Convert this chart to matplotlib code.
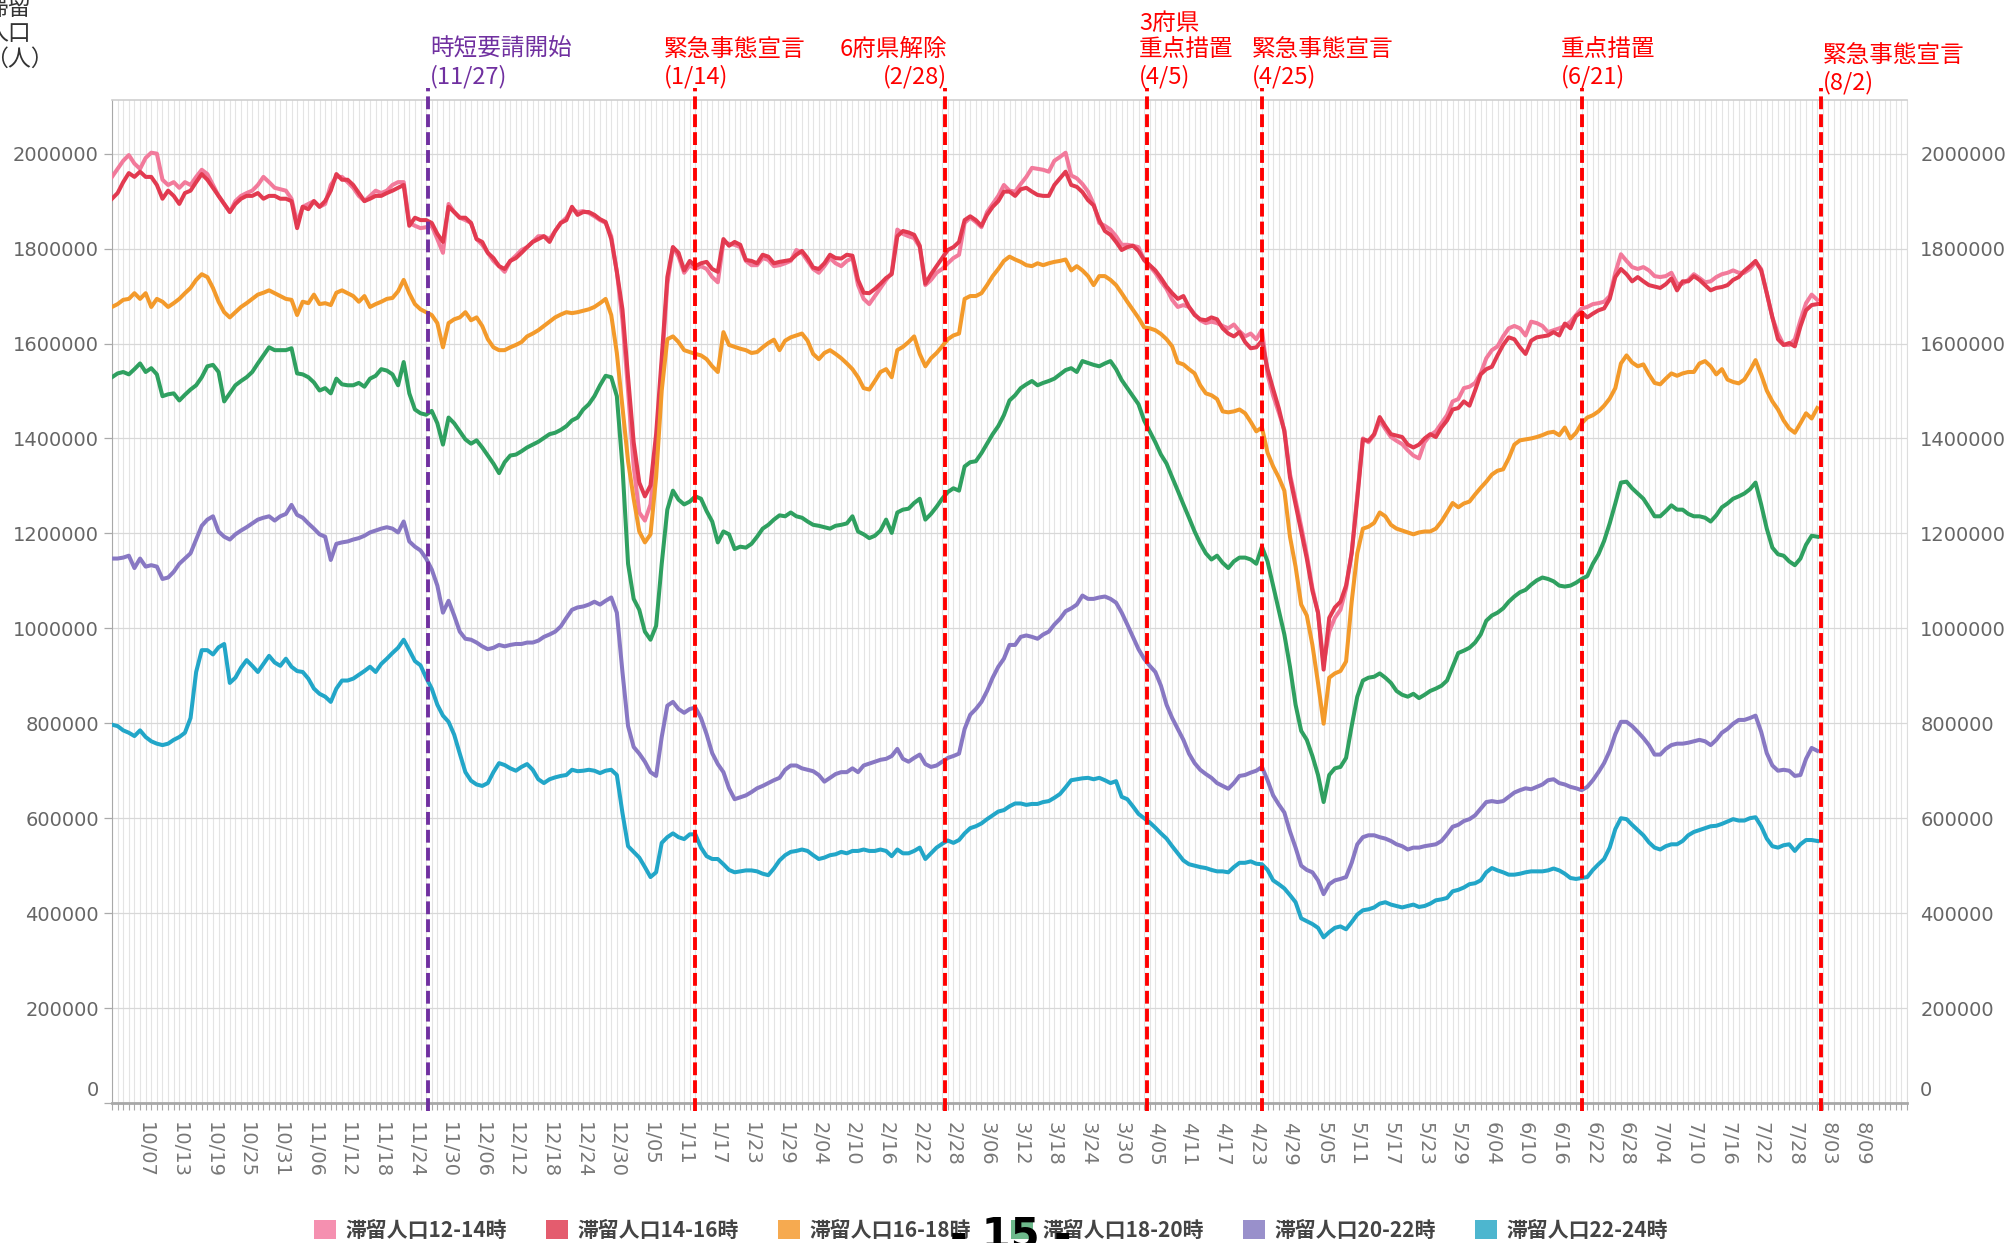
import numpy as np
import pandas as pd
import matplotlib
matplotlib.use("Agg")
import matplotlib.pyplot as plt
from matplotlib.patches import Patch
from matplotlib.transforms import ScaledTranslation

# daily values from 2020-10-01, unit = 10,000 people
start_date = pd.Timestamp("2020-10-01")

pop_12_14 = [
    195.1, 196.8, 198.5, 199.7, 197.9, 196.8, 199.1, 200.2, 200, 194.5,
    193.4, 194, 192.8, 194, 193.4, 195.1, 196.6, 195.7, 193.4, 191.1,
    189.4, 187.7, 190, 191.1, 191.7, 192.2, 193.4, 195.1, 194, 192.8,
    192.5, 192.2, 190.5, 185.4, 188.8, 189.4, 190, 188.8, 189.4, 193.4,
    195.1, 195.1, 194, 192.8, 191.1, 190, 191.1, 192.2, 191.7, 192.2,
    193.4, 194, 194, 185.4, 184.8, 184.3, 184.5, 184.8, 182, 179.1,
    189.4, 187.7, 186.5, 186, 185.4, 182, 180.8, 179.1, 177.4, 176.3,
    175.1, 177.4, 178.5, 179.7, 180.3, 181.4, 182.6, 182.6, 182, 183.7,
    185.4, 186.5,
    188.3, 187.7, 187.9, 187.5, 186.8, 186, 185.4, 182.6, 175.1, 164.9,
    150.1, 134.1, 124.4, 122.7, 126.1, 138, 155, 172.5, 180.3, 178.3,
    174.9, 176.5, 175.7, 176.3, 175.7, 174, 172.9, 181.4, 181, 180.8,
    180.3, 177.4, 176.5, 176.5, 178, 177.6, 176.3, 176.5, 176.9, 177.4,
    179.7, 179.1, 177.4, 175.7, 174.9, 176.3, 178, 176.9, 176.3, 177.4,
    178, 172.3, 169.4, 168.3, 170, 171.7, 173.4, 174.9, 184, 183.1,
    182.6, 182.2, 180.3, 172.3, 173.4, 174.9, 175.7, 176.9, 178, 178.7,
    185.4, 186.5, 185.6, 184.5, 187.7, 189.4, 191.1, 193.4, 192.2,
    192, 193.6, 195.1, 197, 196.8, 196.6, 196.2, 198.5, 199.3, 200.2,
    195.4, 194.8, 193.6, 192, 189.4, 185.4, 184.8, 184, 182.6, 180.8,
    180.8, 180.6, 180.3, 177.6, 176.3, 174.9, 173.1, 171.5, 169.2, 167.7,
    168.1, 167.7, 166.2, 164.9, 164.3, 164.6, 164.3, 163.7, 163.2, 164,
    162.6, 161.5, 162.1, 160.9, 162.9, 153.5, 149, 145.5, 141.8, 132.5,
    127, 121.5, 115.5, 108.5, 103.3, 92.5, 99.3, 102.2, 103.9, 108.4,
    116, 128, 140, 139.2, 140.7, 143.8, 142, 140.3, 139.5, 138.8,
    137.5, 136.4, 135.8, 139.2, 140.7, 141.5, 143.2, 144.9, 147.8,
    148.3, 150.6, 150.9, 151.7, 153.7, 156.9, 158.6, 159.4, 161.5, 163.2,
    163.7, 163.2, 161.7, 164.6, 164.3, 163.7, 162.4, 162.8, 163.2, 163.7,
    164.6, 166, 167.4, 167.7, 168.3, 168.5, 168.8, 170, 174.9, 178.8,
    177.4, 176.1, 175.7, 176.1, 175.4, 174.2, 174, 174.2, 174.9, 172.6,
    172.6, 173.4, 174.6, 173.8, 172.9, 173.1, 174, 174.6, 174.9, 175.4,
    174.9, 174.9, 175.7, 177.1, 175.7, 170.6, 165.5, 162.1, 159.7, 159.7,
    160.9, 164.9, 168.5, 170.3, 169.2,
]

pop_14_16 = [
    190.5, 191.7, 194, 195.9, 195.1, 196.2, 195.1, 195.1, 193.4, 190.5,
    192.2, 191.1, 189.4, 191.7, 192.2, 194, 195.7, 194.5, 192.8, 191.1,
    189.4, 187.7, 189.4, 190.5, 191.1, 191.1, 191.7, 190.5, 191.1, 191.1,
    190.5, 190.5, 190, 184.3, 188.8, 188.3, 190, 188.8, 190, 192.2,
    195.7, 194.5, 194.5, 193.4, 191.7, 190, 190.5, 191.1, 191.1, 191.7,
    192.2, 192.8, 193.4, 184.8, 186.5, 186, 186, 185.4, 183.1, 181.4,
    188.8, 187.7, 186.5, 186.5, 185.4, 182, 181.4, 179.1, 178, 176.3,
    175.7, 177.4, 178, 179.1, 180.3, 181.4, 182, 182.6, 181.4, 183.7,
    185.4, 186,
    188.8, 187.1, 187.7, 187.7, 187.1, 186.2, 185.6, 182, 175.1, 167.2,
    152.9, 139.2, 130.7, 127.8, 130.1, 140.9, 156.9, 174, 180.3, 179.1,
    175.4, 177.4, 176.3, 176.9, 177.2, 175.7, 175.1, 182, 180.6, 181.4,
    180.8, 177.6, 177.4, 176.9, 178.7, 178.3, 176.9, 177.2, 177.4, 177.6,
    178.7, 179.5, 178, 176, 175.7, 176.9, 178.7, 178, 177.9, 178.7,
    178.5, 173.4, 170.7, 170.6, 171.5, 172.6, 173.8, 174.6, 182.6, 183.7,
    183.4, 182.9, 180.6, 172.6, 174.6, 176.3, 178, 179.7, 180.3, 181.4,
    186, 186.8, 186, 184.8, 187.1, 188.8, 190, 192, 192,
    191.1, 192.5, 192.8, 192, 191.3, 191.1, 191.1, 193.4, 194.8, 196.2,
    193.4, 193, 191.9, 190.2, 189.1, 186, 183.7, 182.9, 181.4, 179.7,
    180.3, 180.6, 179.5, 177.6, 176.5, 175.4, 173.8, 172, 170.6, 169.4,
    170, 167.7, 166, 165.1, 164.9, 165.5, 165.1, 163.2, 162.1, 161.5,
    162.4, 160.3, 159, 159.2, 160.6, 154.6, 150.4, 146.4, 141.5, 131.8,
    126.1, 120.4, 114.7, 107.9, 103.3, 91.3, 102.2, 104.4, 105.6, 109,
    115.8, 127.3, 139.8, 139.5, 140.9, 144.5, 142.6, 140.9, 140.6, 140.3,
    138.7, 138.1, 138.7, 140, 140.9, 140.3, 142.3, 143.8, 146.1,
    146.4, 147.8, 146.9, 150.1, 153.5, 154.6, 155.1, 157.5, 159.7, 161.3,
    160.9, 159.2, 157.8, 160.6, 161.3, 161.5, 161.7, 162.4, 161.7, 164.2,
    163.2, 165.8, 166.6, 165.5, 166.3, 167, 167.4, 169.4, 174, 175.7,
    174.6, 173.1, 174, 173.1, 172.3, 172, 171.7, 172.5, 173.7, 171.2,
    173.1, 173.1, 174.2, 173.4, 172.3, 171.2, 171.7, 171.9, 172.3, 173.4,
    174, 175.3, 176.3, 177.4, 175.4, 170.6, 165.5, 160.9, 159.7, 160.1,
    159.4, 163.6, 167, 168.1, 168.3,
]

pop_16_18 = [
    167.7, 168.3, 169.2, 169.4, 170.6, 169.4, 170.6, 167.7, 169.4, 168.8,
    167.7, 168.5, 169.4, 170.6, 171.7, 173.4, 174.6, 174, 171.7, 168.8,
    166.6, 165.5, 166.6, 167.7, 168.5, 169.4, 170.3, 170.7, 171.2, 170.6,
    170, 169.4, 169.2, 166, 168.8, 168.5, 170.3, 168.3, 168.5, 168.1,
    170.7, 171.2, 170.6, 170, 168.8, 170, 167.7, 168.3, 168.8, 169.4,
    169.6, 171, 173.4, 170.6, 168.3, 167.2, 166.6, 166, 164.3, 159.2,
    164.3, 165.1, 165.5, 166.6, 164.9, 165.5, 163.7, 160.9, 159.2, 158.6,
    158.6, 159.2, 159.7, 160.3, 161.5, 162.1, 162.8, 163.7, 164.6, 165.5,
    166.1, 166.6,
    166.4, 166.6, 166.9, 167.2, 167.7, 168.5, 169.4, 166, 158, 146.6,
    135.2, 127.3, 120.4, 118.1, 119.8, 131.8, 150.1, 160.9, 161.5, 160.3,
    158.6, 158.2, 157.8, 157.5, 156.7, 155.2, 154, 162.4, 159.7, 159.3,
    158.9, 158.6, 158, 158.2, 159.2, 160.1, 160.8, 158.6, 160.6, 161.3,
    161.7, 162.1, 160.6, 157.8, 156.7, 158, 158.6, 157.8, 156.9, 155.8,
    154.6, 152.9, 150.6, 150.3, 152.1, 154, 154.6, 152.9, 158.6, 159.3,
    160.3, 161.5, 157.8, 155.2, 156.9, 158, 159.4, 160.9, 161.7, 162.1,
    169.4, 170, 170, 170.6, 172.3, 174.2, 175.7, 177.4, 178.3,
    177.7, 177.2, 176.5, 176.3, 176.9, 176.5, 176.9, 177.2, 177.4, 177.7,
    175.4, 176.3, 175.4, 174.2, 172.3, 174.2, 174.2, 173.4, 172.3, 170.6,
    168.8, 167.1, 165.4, 163.4, 163.2, 162.8, 162, 160.9, 159.4, 156,
    155.6, 154.6, 153.7, 151.2, 149.5, 149.1, 148.3, 145.7, 145.5, 145.7,
    146.1, 145.3, 143.5, 141.5, 142.3, 137, 134.1, 131.8, 129, 119.3,
    113, 105, 102.7, 96.5, 88.5, 79.9, 89.6, 90.5, 91, 93,
    105.6, 115.8, 121, 121.4, 122.2, 124.4, 123.6, 121.8, 121, 120.6,
    120.2, 119.8, 120.2, 120.4, 120.4, 121, 122.5, 124.4, 126.4,
    125.5, 126.3, 126.7, 128.2, 129.6, 130.9, 132.4, 133.2, 133.5, 135.8,
    138.7, 139.6, 139.8, 140, 140.3, 140.7, 141.2, 141.4, 140.7, 142.3,
    140, 141.2, 143.2, 144.4, 144.9, 145.7, 146.9, 148.4, 150.6, 155.8,
    157.5, 156, 155.2, 155.6, 153.5, 151.7, 151.4, 152.6, 153.7, 153.2,
    153.7, 154, 154, 155.8, 156.3, 155.2, 153.5, 154.6, 152.4, 151.9,
    151.6, 152.4, 154.3, 156.5, 153.5, 150.1, 147.8, 146.1, 143.8, 142.1,
    141.2, 143.2, 145.3, 144.2, 146.4,
]

pop_18_20 = [
    152.9, 153.7, 154, 153.5, 154.6, 155.8, 154, 154.8, 153.5, 148.9,
    149.3, 149.5, 148, 149.2, 150.3, 151.2, 152.9, 155.2, 155.5, 154,
    147.8, 149.5, 151.2, 152.1, 152.9, 154, 155.8, 157.5, 159.2, 158.6,
    158.6, 158.6, 159, 153.7, 153.5, 152.9, 151.8, 150.1, 150.6, 149.5,
    152.6, 151.4, 151.2, 151.2, 151.7, 150.9, 152.6, 153.2, 154.6, 154.3,
    153.5, 151.2, 156.1, 149.5, 146.1, 145.3, 145, 145.8, 143.2, 138.7,
    144.4, 143.2, 141.5, 139.8, 138.9, 139.6, 138.1, 136.4, 134.7, 132.7,
    135, 136.4, 136.6, 137.3, 138.1, 138.7, 139.3, 140.1, 140.9, 141.2,
    141.8, 142.6,
    143.8, 144.4, 146.1, 147.2, 148.9, 151.2, 153.2, 152.9, 148.9, 134.1,
    113.6, 106.2, 103.9, 99.3, 97.6, 100.5, 113.6, 125, 129, 127.1,
    126.1, 126.7, 127.8, 127.3, 124.7, 122.5, 118.1, 120.4, 119.8, 116.7,
    117.2, 117, 117.8, 119.3, 121, 121.8, 122.9, 123.8, 123.6, 124.4,
    123.6, 123.3, 122.5, 121.8, 121.6, 121.3, 121, 121.6, 121.8, 122.1,
    123.6, 120.4, 119.8, 119, 119.5, 120.6, 122.9, 120.1, 124.4, 125,
    125.2, 126.4, 127.3, 122.9, 124.1, 125.6, 127.3, 128.7, 129.5, 129,
    134.1, 135, 135.2, 136.9, 138.9, 140.9, 142.6, 144.9, 148,
    149.1, 150.6, 151.4, 152.1, 151.2, 151.7, 152.1, 152.6, 153.5, 154.4,
    154.8, 154, 156.3, 155.9, 155.5, 155.2, 155.8, 156.3, 154.6, 152.3,
    150.6, 148.9, 147.2, 143.8, 141.5, 139.2, 136.6, 134.7, 131.8, 129,
    126.1, 123.3, 120.4, 117.9, 115.8, 114.5, 115.3, 113.8, 112.7, 114.1,
    114.9, 114.9, 114.5, 113.6, 117.2, 114.1, 109, 103.9, 98.7, 91.9,
    83.9, 78.4, 76.5, 73.1, 69.1, 63.4, 69.1, 70.5, 70.8, 72.7,
    79.4, 85.6, 89, 89.6, 89.8, 90.5, 89.6, 88.5, 86.8, 86,
    85.6, 86.2, 85.3, 86, 86.8, 87.3, 87.9, 89, 91.9,
    94.8, 95.3, 95.9, 97, 98.7, 101.6, 102.7, 103.3, 104.2, 105.6,
    106.7, 107.6, 108.1, 109.2, 110.1, 110.7, 110.4, 109.9, 109, 108.8,
    109, 109.6, 110.4, 111, 113.6, 115.6, 118.4, 122.1, 126.3, 130.7,
    130.9, 129.5, 128.4, 127.3, 125.5, 123.6, 123.6, 124.7, 125.9, 125,
    125, 124.1, 123.6, 123.6, 123.3, 122.5, 123.8, 125.5, 126.3, 127.3,
    127.8, 128.4, 129.3, 130.7, 126.1, 121, 117, 115.6, 115.3, 114.1,
    113.3, 114.7, 117.6, 119.5, 119.3,
]

pop_20_22 = [
    114.7, 114.7, 114.9, 115.3, 112.7, 114.7, 113, 113.3, 113, 110.4,
    110.7, 111.9, 113.6, 114.7, 115.8, 118.7, 121.6, 122.9, 123.6, 120.4,
    119.3, 118.7, 119.8, 120.6, 121.3, 122.1, 122.9, 123.3, 123.6, 122.7,
    123.6, 124.1, 126, 123.9, 123.3, 122.1, 121, 119.8, 119.3, 114.4,
    117.8, 118.1, 118.3, 118.7, 119, 119.5, 120.2, 120.6, 121, 121.3,
    121, 120.2, 122.5, 118.3, 117.2, 116.4, 114.7, 112.4, 109, 103.3,
    105.8, 102.7, 99.3, 97.8, 97.6, 97, 96.2, 95.6, 95.9, 96.5,
    96.2, 96.5, 96.7, 96.7, 97, 97, 97.4, 98.2, 98.7, 99.3,
    100.4, 102.2,
    103.9, 104.4, 104.6, 105, 105.6, 105, 105.8, 106.5, 103.3, 90.8,
    79.4, 75, 73.6, 71.9, 69.7, 68.9, 77.1, 83.7, 84.5, 83,
    82.2, 83, 83.3, 81.1, 77.7, 73.7, 71.4, 69.7, 66.3, 64,
    64.4, 64.8, 65.5, 66.3, 66.8, 67.4, 68, 68.5, 70.2, 71.1,
    71.1, 70.5, 70.2, 69.9, 69.1, 67.7, 68.5, 69.3, 69.7, 69.7,
    70.5, 69.7, 71.1, 71.5, 71.9, 72.3, 72.5, 73.1, 74.6, 72.5,
    71.9, 72.7, 73.4, 71.4, 70.8, 71.1, 71.9, 72.7, 73.1, 73.6,
    78.8, 81.8, 83, 84.5, 86.8, 89.6, 91.9, 93.6, 96.5,
    96.5, 98.2, 98.5, 98.2, 97.8, 98.7, 99.3, 100.8, 102, 103.6,
    104.2, 105, 106.9, 106.2, 106.2, 106.5, 106.7, 106.2, 105.4, 103.3,
    100.8, 98.2, 95.6, 93.6, 92.1, 90.8, 87.9, 83.9, 81.1, 78.8,
    76.5, 73.6, 71.6, 70.2, 69.3, 68.5, 67.4, 66.8, 66.2, 67.4,
    68.9, 69.1, 69.6, 70, 70.8, 68, 64.8, 62.9, 61.2, 57.2,
    53.8, 50, 49.1, 48.6, 46.9, 44, 46.1, 46.9, 47.2, 47.6,
    50.6, 54.5, 56, 56.4, 56.4, 56, 55.7, 55.2, 54.5, 54.1,
    53.4, 53.8, 53.8, 54.1, 54.3, 54.5, 55.2, 56.6, 58.2,
    58.6, 59.4, 59.8, 60.6, 62, 63.4, 63.6, 63.4, 63.6, 64.5,
    65.4, 65.9, 66.3, 66.1, 66.6, 67.1, 68, 68.2, 67.4, 67.1,
    66.6, 66.3, 65.9, 66.6, 68, 69.7, 71.6, 74.2, 77.7, 80.3,
    80.3, 79.4, 78.2, 76.9, 75.4, 73.4, 73.4, 74.6, 75.4, 75.7,
    75.7, 75.9, 76.2, 76.5, 76.2, 75.4, 76.5, 78, 78.8, 79.9,
    80.7, 80.7, 81.1, 81.6, 78.2, 73.7, 71.1, 70, 70.2, 70,
    68.9, 69.1, 72.5, 74.8, 74.2,
]

pop_22_24 = [
    79.7, 79.4, 78.5, 78, 77.3, 78.5, 77.1, 76.2, 75.7, 75.4,
    75.7, 76.5, 77.1, 78, 81.1, 90.8, 95.4, 95.4, 94.5, 96,
    96.7, 88.5, 89.6, 91.7, 93.3, 92.1, 90.8, 92.5, 94.2, 92.8,
    92.1, 93.6, 91.9, 91, 90.8, 89.4, 87.3, 86.2, 85.6, 84.5,
    87.3, 89, 89, 89.4, 90.2, 91, 91.9, 90.8, 92.5, 93.6,
    94.8, 95.9, 97.6, 95.4, 93.1, 92.2, 89.6, 87.3, 83.9, 81.6,
    80.3, 77.6, 73.6, 69.7, 67.9, 67.1, 66.8, 67.4, 69.7, 71.6,
    71.2, 70.5, 70, 70.8, 71.4, 70.2, 68.2, 67.4, 68.2, 68.6,
    68.9, 69.1,
    70.2, 69.9, 70, 70.2, 70, 69.5, 70, 70.2, 69.1, 61.1,
    54.1, 52.9, 51.7, 49.7, 47.6, 48.6, 54.8, 56, 56.8, 56,
    55.6, 56.6, 56.6, 53.8, 52, 51.4, 51.4, 50.3, 49.1, 48.6,
    48.8, 49, 49, 48.8, 48.3, 48, 49.4, 51.1, 52.2, 52.9,
    53.1, 53.4, 53.1, 52.2, 51.4, 51.7, 52.2, 52.4, 52.9, 52.6,
    53.1, 53.1, 53.4, 53.1, 53.1, 53.4, 53.1, 52, 53.4, 52.6,
    52.6, 53.1, 53.8, 51.4, 52.6, 53.8, 54.6, 55.3, 54.8, 55.4,
    56.8, 57.9, 58.3, 58.9, 59.8, 60.6, 61.4, 61.7, 62.5,
    63.1, 63.1, 62.8, 63, 63, 63.4, 63.6, 64.3, 65.1, 66.5,
    68, 68.2, 68.4, 68.5, 68.2, 68.5, 68, 67.4, 67.8, 64.5,
    64, 62.5, 60.9, 60, 59.1, 58, 56.8, 55.7, 54.1, 52.6,
    51.1, 50.3, 50, 49.7, 49.5, 49.1, 48.8, 48.8, 48.6, 49.7,
    50.6, 50.6, 50.9, 50.4, 50.3, 49.1, 46.9, 46.1, 45.2, 43.8,
    42.3, 38.9, 38.3, 37.7, 36.9, 34.9, 36, 36.9, 37.2, 36.6,
    38.1, 39.7, 40.6, 40.8, 41.2, 42, 42.3, 41.8, 41.5, 41.2,
    41.5, 41.8, 41.3, 41.5, 42, 42.7, 42.9, 43.2, 44.6,
    44.9, 45.4, 46.1, 46.3, 46.9, 48.6, 49.5, 49, 48.6, 48.1,
    48.1, 48.3, 48.6, 48.8, 48.8, 48.8, 49, 49.4, 49, 48.3,
    47.4, 47.2, 47.4, 47.6, 49.1, 50.3, 51.4, 53.8, 57.7, 60,
    59.8, 58.6, 57.5, 56.4, 54.9, 53.8, 53.4, 54.1, 54.5, 54.5,
    55.2, 56.4, 57.1, 57.5, 57.9, 58.3, 58.4, 58.8, 59.3, 59.8,
    59.5, 59.5, 60, 60.2, 58.3, 55.7, 54.1, 53.8, 54.3, 54.5,
    53.1, 54.5, 55.4, 55.4, 55.2,
]

series_names = ["滞留人口12-14時", "滞留人口14-16時", "滞留人口16-18時",
                "滞留人口18-20時", "滞留人口20-22時", "滞留人口22-24時"]

x_tick_labels = ["10/07", "10/13", "10/19", "10/25", "10/31", "11/06", "11/12",
                 "11/18", "11/24", "11/30", "12/06", "12/12", "12/18", "12/24",
                 "12/30", "1/05", "1/11", "1/17", "1/23", "1/29", "2/04", "2/10",
                 "2/16", "2/22", "2/28", "3/06", "3/12", "3/18", "3/24", "3/30",
                 "4/05", "4/11", "4/17", "4/23", "4/29", "5/05", "5/11", "5/17",
                 "5/23", "5/29", "6/04", "6/10", "6/16", "6/22", "6/28", "7/04",
                 "7/10", "7/16", "7/22", "7/28", "8/03", "8/09"]

y_ticks = [0, 200000, 400000, 600000, 800000, 1000000, 1200000, 1400000,
           1600000, 1800000, 2000000]

event_dates = ["2020-11-27", "2021-01-14", "2021-02-28", "2021-04-05",
               "2021-04-25", "2021-06-21", "2021-08-02"]
event_labels = ["時短要請開始\n(11/27)", "緊急事態宣言\n(1/14)", "6府県解除\n(2/28)",
                "3府県\n重点措置\n(4/5)", "緊急事態宣言\n(4/25)", "重点措置\n(6/21)",
                "緊急事態宣言\n(8/2)"]

# styling
line_colors = ["#F27A9B", "#E23A50", "#F39A2B", "#2FA060", "#8878C3", "#22A6C8"]
swatch_colors = ["#F590B0", "#E45C6E", "#F6AA50", "#6DB98B", "#9990CB", "#4DB6CF"]
event_colors = ["#7030A0"] + ["#FF0000"] * 6
# nudge (days) so the markers sit where the slide drew them
event_shift = [-0.6, -1.0, -1.5, -1.5, -1.0, -1.0, -0.3]
# text anchor in figure pixels (x, y centre, alignment)
event_text_pos = [(430, 63, "left"), (664, 63, "left"), (947, 63, "right"),
                  (1139, 50, "left"), (1252, 63, "left"), (1561, 63, "left"),
                  (1823, 69, "left")]

cjk = ["Noto Sans CJK JP", "DejaVu Sans"]
plt.rcParams["font.family"] = ["DejaVu Sans", "Noto Sans CJK JP"]

W, H = 2007, 1243
fig = plt.figure(figsize=(W / 100, H / 100), dpi=100)
ax = fig.add_axes([112 / W, 1 - 1103 / H, 1795 / W, 1003 / H])

all_series = [pop_12_14, pop_14_16, pop_16_18, pop_18_20, pop_20_22, pop_22_24]
for vals, col in zip(all_series, line_colors):
    ax.plot(np.arange(len(vals)), np.array(vals) * 10000, color=col, lw=2.9,
            solid_joinstyle="round", zorder=3)

ax.set_xlim(0, 320)
ax.set_ylim(0, 2113000)

ax.set_xticks(np.arange(6, 6 * len(x_tick_labels) + 1, 6))
ax.set_xticklabels(x_tick_labels, rotation=270, va="top", ha="center")
ax.set_xticks(np.arange(0, 321), minor=True)
ax.set_yticks(y_ticks)
ax.set_yticklabels([str(v) for v in y_ticks])

ax.grid(which="both", axis="x", color="#E4E4E4", lw=0.8)
ax.grid(which="major", axis="y", color="#D8D8D8", lw=0.9)
ax.set_axisbelow(True)

ax.tick_params(axis="x", which="both", length=5, width=0.8, color="#AAAAAA",
               pad=9, labelsize=14, labelcolor="#777777")
ax.tick_params(axis="y", which="major", left=True, right=False, labelleft=True,
               labelright=True, length=6, width=0.9, color="#AAAAAA", pad=3.5,
               labelsize=14, labelcolor="#666666")

ax.spines["bottom"].set_color("#A8A8A8")
ax.spines["bottom"].set_linewidth(2)
ax.spines["left"].set_color("#A8A8A8")
ax.spines["top"].set_color("#CFCFCF")
ax.spines["top"].set_linewidth(1.2)
ax.spines["right"].set_color("#DDDDDD")

# the "0" labels sit a little above the axis line
zero_tick = ax.yaxis.get_major_ticks()[0]
for lab in (zero_tick.label1, zero_tick.label2):
    lab.set_transform(lab.get_transform() + ScaledTranslation(0, 0.14, fig.dpi_scale_trans))

# event markers
for date, col, sh in zip(event_dates, event_colors, event_shift):
    d = (pd.Timestamp(date) - start_date).days + sh
    ax.axvline(d, ymin=-0.008, ymax=1.012, clip_on=False, color=col, lw=2.8,
               ls=(0, (3.3, 1.3)), zorder=6)

for label, col, (px, py, ha) in zip(event_labels, event_colors, event_text_pos):
    fig.text(px / W, 1 - py / H, label, ha=ha, va="center", color=col,
             fontsize=17, family=cjk, linespacing=1.2)

# axis title at top left (partly cut by the image edge)
fig.text(-15 / W, 1 - 34 / H, "滞留\n人口\n（人）", ha="left", va="center",
         fontsize=16.5, family=cjk, color="#333333", linespacing=1.12)

handles = [Patch(facecolor=c, edgecolor="none") for c in swatch_colors]
fig.legend(handles, series_names, loc="center", bbox_to_anchor=(991 / W, 1 - 1230 / H),
           ncol=6, frameon=False, prop={"family": cjk, "size": 15, "weight": "bold"},
           labelcolor="#444444", handlelength=1.05, handleheight=1.05,
           handletextpad=0.45, columnspacing=1.9)

# page number from the slide, cut by the bottom edge
fig.text(1011 / W, 1 - 1247 / H, "- 15 -", ha="center", va="baseline", fontsize=30,
         fontweight="bold", color="black", zorder=10)

fig.savefig("out.png", dpi=100)
